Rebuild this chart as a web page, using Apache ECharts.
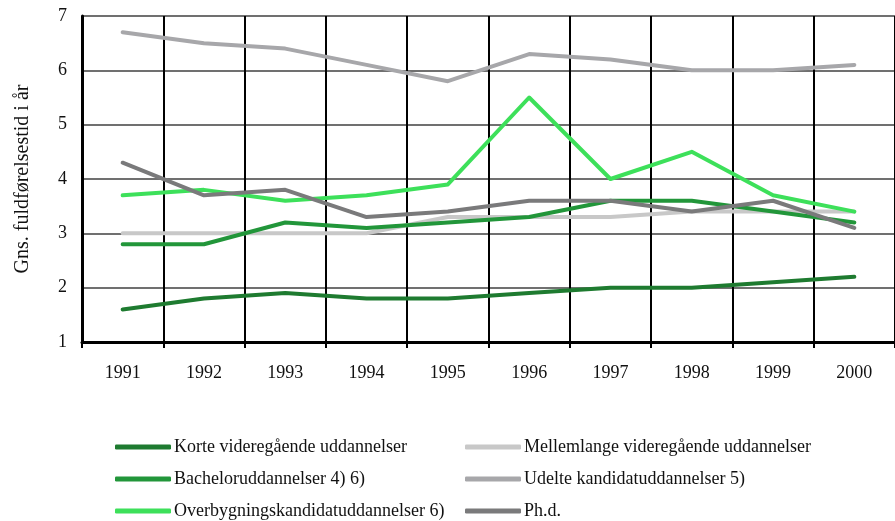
<!DOCTYPE html>
<html>
<head>
<meta charset="utf-8">
<script src="https://cdn.jsdelivr.net/npm/echarts@6/dist/echarts.min.js"></script>
<style>
  html, body { margin: 0; padding: 0; background: #fff; }
  #chart { width: 895px; height: 521px; }
</style>
</head>
<body>
<div id="chart"></div>
<script>
const years = ['1991', '1992', '1993', '1994', '1995', '1996', '1997', '1998', '1999', '2000'];

const korte = [1.6, 1.8, 1.9, 1.8, 1.8, 1.9, 2.0, 2.0, 2.1, 2.2];
const mellemlange = [3.0, 3.0, 3.0, 3.0, 3.3, 3.3, 3.3, 3.4, 3.4, 3.4];
const bachelor = [2.8, 2.8, 3.2, 3.1, 3.2, 3.3, 3.6, 3.6, 3.4, 3.2];
const udelte = [6.7, 6.5, 6.4, 6.1, 5.8, 6.3, 6.2, 6.0, 6.0, 6.1];
const overbygning = [3.7, 3.8, 3.6, 3.7, 3.9, 5.5, 4.0, 4.5, 3.7, 3.4];
const phd = [4.3, 3.7, 3.8, 3.3, 3.4, 3.6, 3.6, 3.4, 3.6, 3.1];

const seriesNames = [
    'Korte videregående uddannelser',
    'Mellemlange videregående uddannelser',
    'Bacheloruddannelser 4) 6)',
    'Udelte kandidatuddannelser 5)',
    'Overbygningskandidatuddannelser 6)',
    'Ph.d.'
];
const seriesData = [korte, mellemlange, bachelor, udelte, overbygning, phd];
const colors = ['#1e7b30', '#c8c8c8', '#22963a', '#a7a7aa', '#3de05a', '#7a7a7b'];

const FONT = '"Liberation Serif", "DejaVu Serif", serif';

// legend laid out as 2 columns x 3 rows
const legendPos = [
    { left: 115, top: 436 }, { left: 465, top: 436 },
    { left: 115, top: 468 }, { left: 465, top: 468 },
    { left: 115, top: 500 }, { left: 465, top: 500 }
];

const legends = seriesNames.map((name, i) => ({
    data: [name],
    left: legendPos[i].left,
    top: legendPos[i].top,
    padding: 0,
    icon: 'roundRect',
    itemWidth: 56,
    itemHeight: 5,
    selectedMode: false,
    textStyle: { fontFamily: FONT, fontSize: 18, color: '#111', lineHeight: 22, padding: [0, 0, 0, -2] }
}));

const chart = echarts.init(document.getElementById('chart'), null, { renderer: 'canvas' });
chart.setOption({
    animation: false,
    backgroundColor: '#fff',
    legend: legends,
    grid: { left: 82, top: 16, width: 822, height: 326, containLabel: false },
    xAxis: {
        type: 'category',
        data: years,
        boundaryGap: true,
        axisLine: { lineStyle: { color: '#000', width: 3 } },
        axisTick: { show: true, length: 6, lineStyle: { color: '#000', width: 2 } },
        axisLabel: { fontFamily: FONT, fontSize: 18, color: '#111', margin: 22 },
        splitLine: { show: true, lineStyle: { color: '#000', width: 2 } }
    },
    yAxis: {
        type: 'value',
        min: 1,
        max: 7,
        interval: 1,
        name: 'Gns. fuldførelsestid i år',
        nameLocation: 'middle',
        nameGap: 49,
        nameTextStyle: { fontFamily: FONT, fontSize: 20, color: '#111' },
        axisLine: { show: true, lineStyle: { color: '#000', width: 3 } },
        axisTick: { show: false },
        axisLabel: { fontFamily: FONT, fontSize: 18, color: '#111', margin: 15 },
        splitLine: { show: true, lineStyle: { color: '#404040', width: 1.5 } }
    },
    series: seriesNames.map((name, i) => ({
        name: name,
        type: 'line',
        data: seriesData[i],
        symbol: 'none',
        color: colors[i],
        lineStyle: { width: 4, color: colors[i], cap: 'round', join: 'round' }
    }))
});
</script>
</body>
</html>
